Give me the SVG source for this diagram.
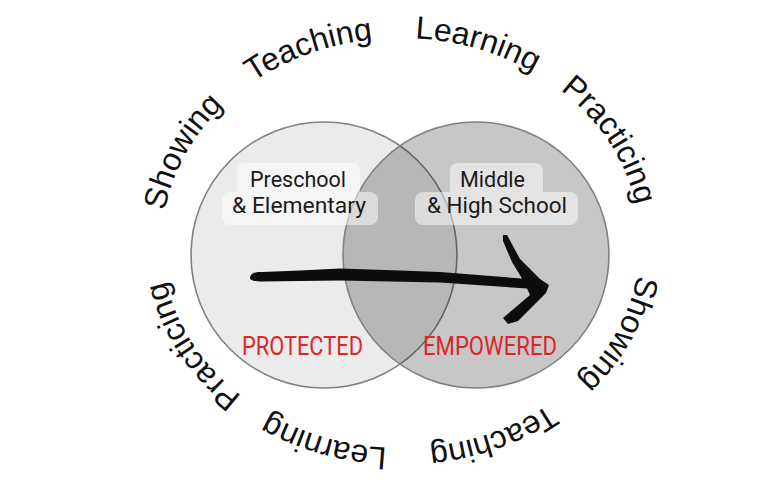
<svg xmlns="http://www.w3.org/2000/svg" xmlns:xlink="http://www.w3.org/1999/xlink" width="770" height="483" viewBox="0 0 770 483">
<style>
.ring{font-family:"Liberation Sans",Arial,sans-serif;font-size:32px;fill:#111;}
.lbl{font-family:Roboto,"Liberation Sans",sans-serif;font-size:22px;fill:#1a1a1a;text-anchor:middle;}
.stage{font-family:Roboto,"Liberation Sans",sans-serif;font-size:25px;fill:#e3222b;text-anchor:middle;}
.circ{stroke:#808080;stroke-width:1.6;}
</style>
<defs>
<path id="ring" d="M 401,38 A 239,205 0 1,1 401,448 A 239,205 0 1,1 401,38"/>
</defs>
<rect width="770" height="483" fill="#ffffff"/>
<g id="circle-left"><circle class="circ" cx="324" cy="255" r="133" fill="#ebebeb"/></g>
<g id="circle-right"><circle class="circ" cx="476" cy="255" r="133" fill="#000000" fill-opacity="0.22"/></g>
<g id="label-left">
<g opacity="0.5" fill="#ffffff">
<rect x="237" y="163" width="123" height="40" rx="8"/>
<rect x="222" y="192" width="156" height="33" rx="8"/>
</g>
<text class="lbl" x="298" y="187" textLength="96" lengthAdjust="spacingAndGlyphs">Preschool</text>
<text class="lbl" x="299" y="213" textLength="134" lengthAdjust="spacingAndGlyphs">&amp; Elementary</text>
</g>
<g id="label-right">
<g opacity="0.5" fill="#ffffff">
<rect x="450" y="163" width="93" height="40" rx="8"/>
<rect x="415" y="192" width="163" height="33" rx="8"/>
</g>
<text class="lbl" x="492.5" y="187" textLength="65" lengthAdjust="spacingAndGlyphs">Middle</text>
<text class="lbl" x="497" y="213" textLength="140" lengthAdjust="spacingAndGlyphs">&amp; High School</text>
</g>
<g id="stage-left"><text class="stage" x="302.5" y="355" textLength="121" lengthAdjust="spacingAndGlyphs">PROTECTED</text></g>
<g id="stage-right"><text class="stage" x="490" y="355" textLength="134" lengthAdjust="spacingAndGlyphs">EMPOWERED</text></g>
<g id="connectors">
<path id="arrow" fill="#0d0d0d" d="M 250,277 C 252,272 257,272 262,272 L 300,270.5 L 340,268.5 L 400,270.5 L 440,272 L 522,278.5 L 512,262 L 503,241 L 503,235 L 507,235 L 520,259 L 540,279 L 549,285 L 546,293 L 518,321 L 508,324 L 503,318 L 530,295 L 527,288.5 L 440,282.5 L 340,280.5 L 300,281 L 262,281.5 C 255,281.5 249,280.5 250,277 Z"/>
</g>
<g id="ring-words">
<text class="ring"><textPath xlink:href="#ring" href="#ring" startOffset="1.0%">Learning</textPath></text>
<text class="ring"><textPath xlink:href="#ring" href="#ring" startOffset="12.2%">Practicing</textPath></text>
<text class="ring"><textPath xlink:href="#ring" href="#ring" startOffset="27.3%">Showing</textPath></text>
<text class="ring"><textPath xlink:href="#ring" href="#ring" startOffset="38.8%">Teaching</textPath></text>
<text class="ring"><textPath xlink:href="#ring" href="#ring" startOffset="51.0%">Learning</textPath></text>
<text class="ring"><textPath xlink:href="#ring" href="#ring" startOffset="62.2%">Practicing</textPath></text>
<text class="ring"><textPath xlink:href="#ring" href="#ring" startOffset="77.3%">Showing</textPath></text>
<text class="ring"><textPath xlink:href="#ring" href="#ring" startOffset="88.8%">Teaching</textPath></text>
</g>
</svg>
